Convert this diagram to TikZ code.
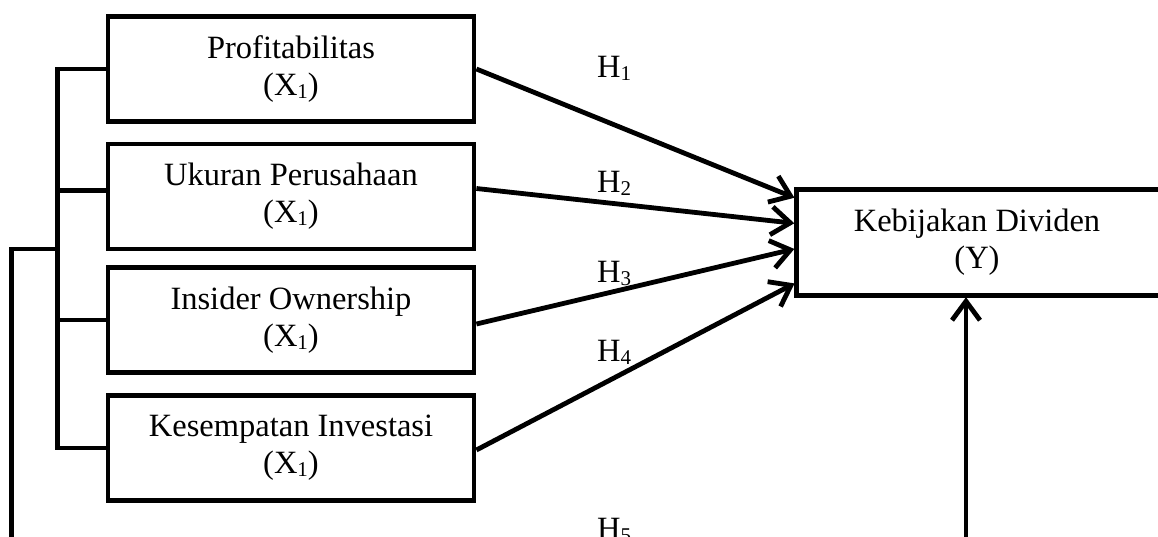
\documentclass[tikz,border=0pt]{standalone}
\usepackage{fontspec}
\setmainfont{Liberation Serif}
\usetikzlibrary{arrows.meta}
\newcommand{\sbs}[1]{\raisebox{-3pt}{\fontsize{21}{21}\selectfont #1}}
\tikzset{
  x=1pt, y=-1pt,
  line/.style={line width=4.8pt},
  varbox/.style={draw, line width=4.8pt, rectangle, minimum width=366pt, minimum height=105pt,
    inner sep=0pt, align=center, font=\fontsize{32.5}{37}\selectfont},
  arr/.style={line width=4.8pt, -{Straight Barb[length=19pt,width=28pt]}, shorten >=2pt},
  hlab/.style={anchor=base west, inner sep=0pt, font=\fontsize{32.5}{37}\selectfont},
}
\begin{document}
\begin{tikzpicture}
\useasboundingbox (0,0) rectangle (1158,537);
\clip (0,0) rectangle (1158,537);
% independent variables
\node[varbox] (b1) at (291,69) {Profitabilitas\\(X\sbs{1})};
\node[varbox] (b2) at (291,196.5) {Ukuran Perusahaan\\(X\sbs{1})};
\node[varbox] (b3) at (291,320) {Insider Ownership\\(X\sbs{1})};
\node[varbox] (b4) at (291,448) {Kesempatan Investasi\\(X\sbs{1})};
% dependent variable
\node[minimum width=361pt, minimum height=105pt, inner sep=0pt, align=center,
  font=\fontsize{32.5}{37}\selectfont] (kd) at (977,242.5) {Kebijakan Dividen\\(Y)};
\draw[line] ([xshift=40pt]kd.north east) -- (kd.north west) -- (kd.south west) -- ([xshift=40pt]kd.south east);
% bracket on the left
\draw[line] (b1.west) -- ++(-48.5,0) |- (b4.west);
\draw[line] ([yshift=6pt]b2.west) -- ++(-48.5,0);
\draw[line] (b3.west) -- ++(-48.5,0);
\coordinate (bj) at (59.5,249);
\coordinate (ob) at (11.5,560);
\draw[line] (bj) -| (ob);
% hypothesis arrows
\draw[arr] (b1.east) -- ([yshift=44pt]kd.west);
\draw[arr] ([yshift=8pt]b2.east) -- ([yshift=19pt]kd.west);
\draw[arr] ([yshift=-4pt]b3.east) -- ([yshift=-6pt]kd.west);
\draw[arr] ([yshift=-2pt]b4.east) -- ([yshift=-40pt]kd.west);
\coordinate (vb) at (966,560);
\draw[arr] (vb) -- ([xshift=-11pt]kd.south);
% labels
\node[hlab] (h1) at (597,78) {H\sbs{1}};
\node[hlab] (h2) at (597,193) {H\sbs{2}};
\node[hlab] (h3) at (597,282) {H\sbs{3}};
\node[hlab] (h4) at (597,361) {H\sbs{4}};
\node[hlab] (h5) at (597,539) {H\sbs{5}};
\end{tikzpicture}
\end{document}
